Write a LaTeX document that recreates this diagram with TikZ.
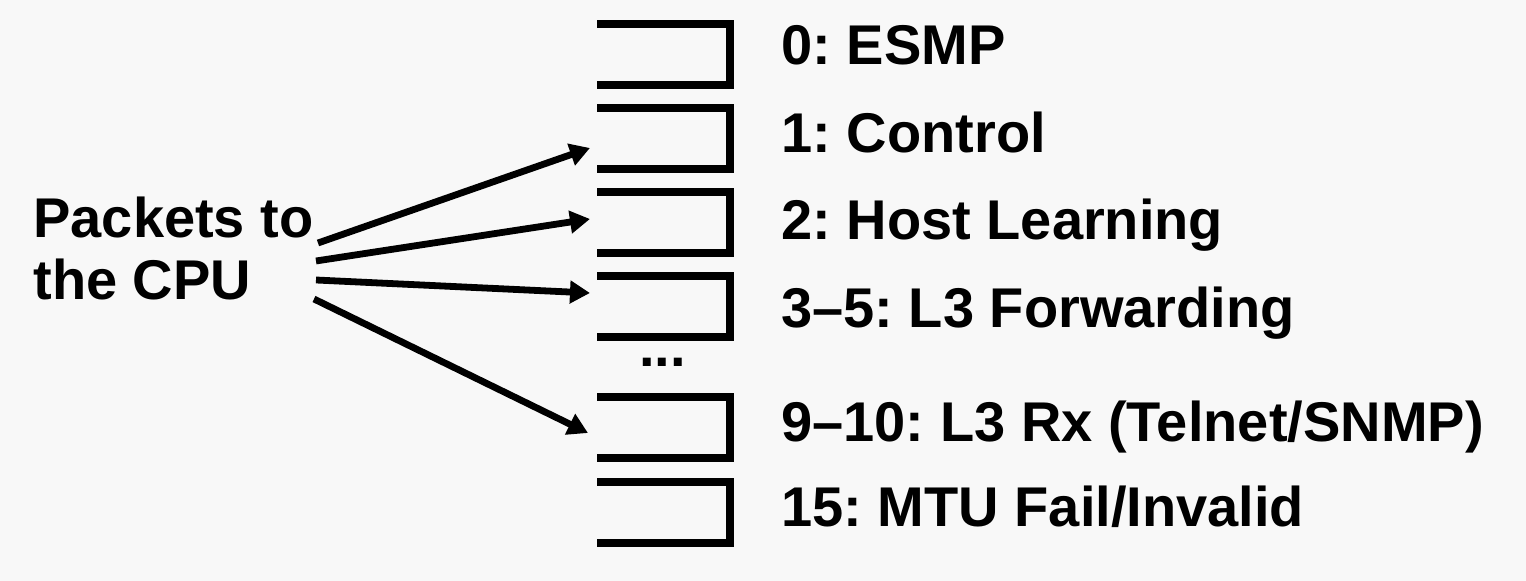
\documentclass[tikz,border=0pt]{standalone}
\usepackage{fontspec}
\setmainfont{Liberation Sans}
\usetikzlibrary{arrows.meta}
\definecolor{bgc}{RGB}{248,248,248}
\frenchspacing
\tikzset{
  queuebox/.style={line width=4pt, line join=miter, line cap=butt},
  arr/.style={line width=3.4pt, -{Triangle[length=10pt,width=11pt]}},
  lbl/.style={anchor=base west, inner sep=0pt, font=\bfseries\fontsize{28}{31}\selectfont},
}
\begin{document}
\begin{tikzpicture}[x=0.5pt,y=-0.5pt]
\fill[bgc] (0,0) rectangle (1526,581);
\useasboundingbox (0,0) rectangle (1526,581);
% queues
\foreach \t [count=\i] in {24,108,192,276,397,482}{
  \draw[queuebox] (597,\t) -- (730,\t) -- (730,\t+61) -- (597,\t+61);
}
\node[lbl] (dots) at (639,367) {...};
% source text
\node[lbl, align=left, anchor=north west] (src) at (33,197) {Packets to\\the CPU};
% labels
\node[lbl] (l0) at (781,65) {0: ESMP};
\node[lbl] (l1) at (781,153) {1: Control};
\node[lbl] (l2) at (781,240) {2: Host Learning};
\node[lbl] (l3) at (781,328) {3--5: L3 Forwarding};
\node[lbl] (l4) at (781,442) {9--10: L3 Rx (Telnet/SNMP)};
\node[lbl] (l5) at (781,527) {15: MTU Fail/Invalid};
% arrow ends
\coordinate (s1) at (318,243); \coordinate (t1) at (590,148);
\coordinate (s2) at (316,261); \coordinate (t2) at (590,219);
\coordinate (s3) at (316,280); \coordinate (t3) at (590,293);
\coordinate (s4) at (314,299); \coordinate (t4) at (588,433);
\draw[arr] (s1) -- (t1);
\draw[arr] (s2) -- (t2);
\draw[arr] (s3) -- (t3);
\draw[arr] (s4) -- (t4);
\end{tikzpicture}
\end{document}
